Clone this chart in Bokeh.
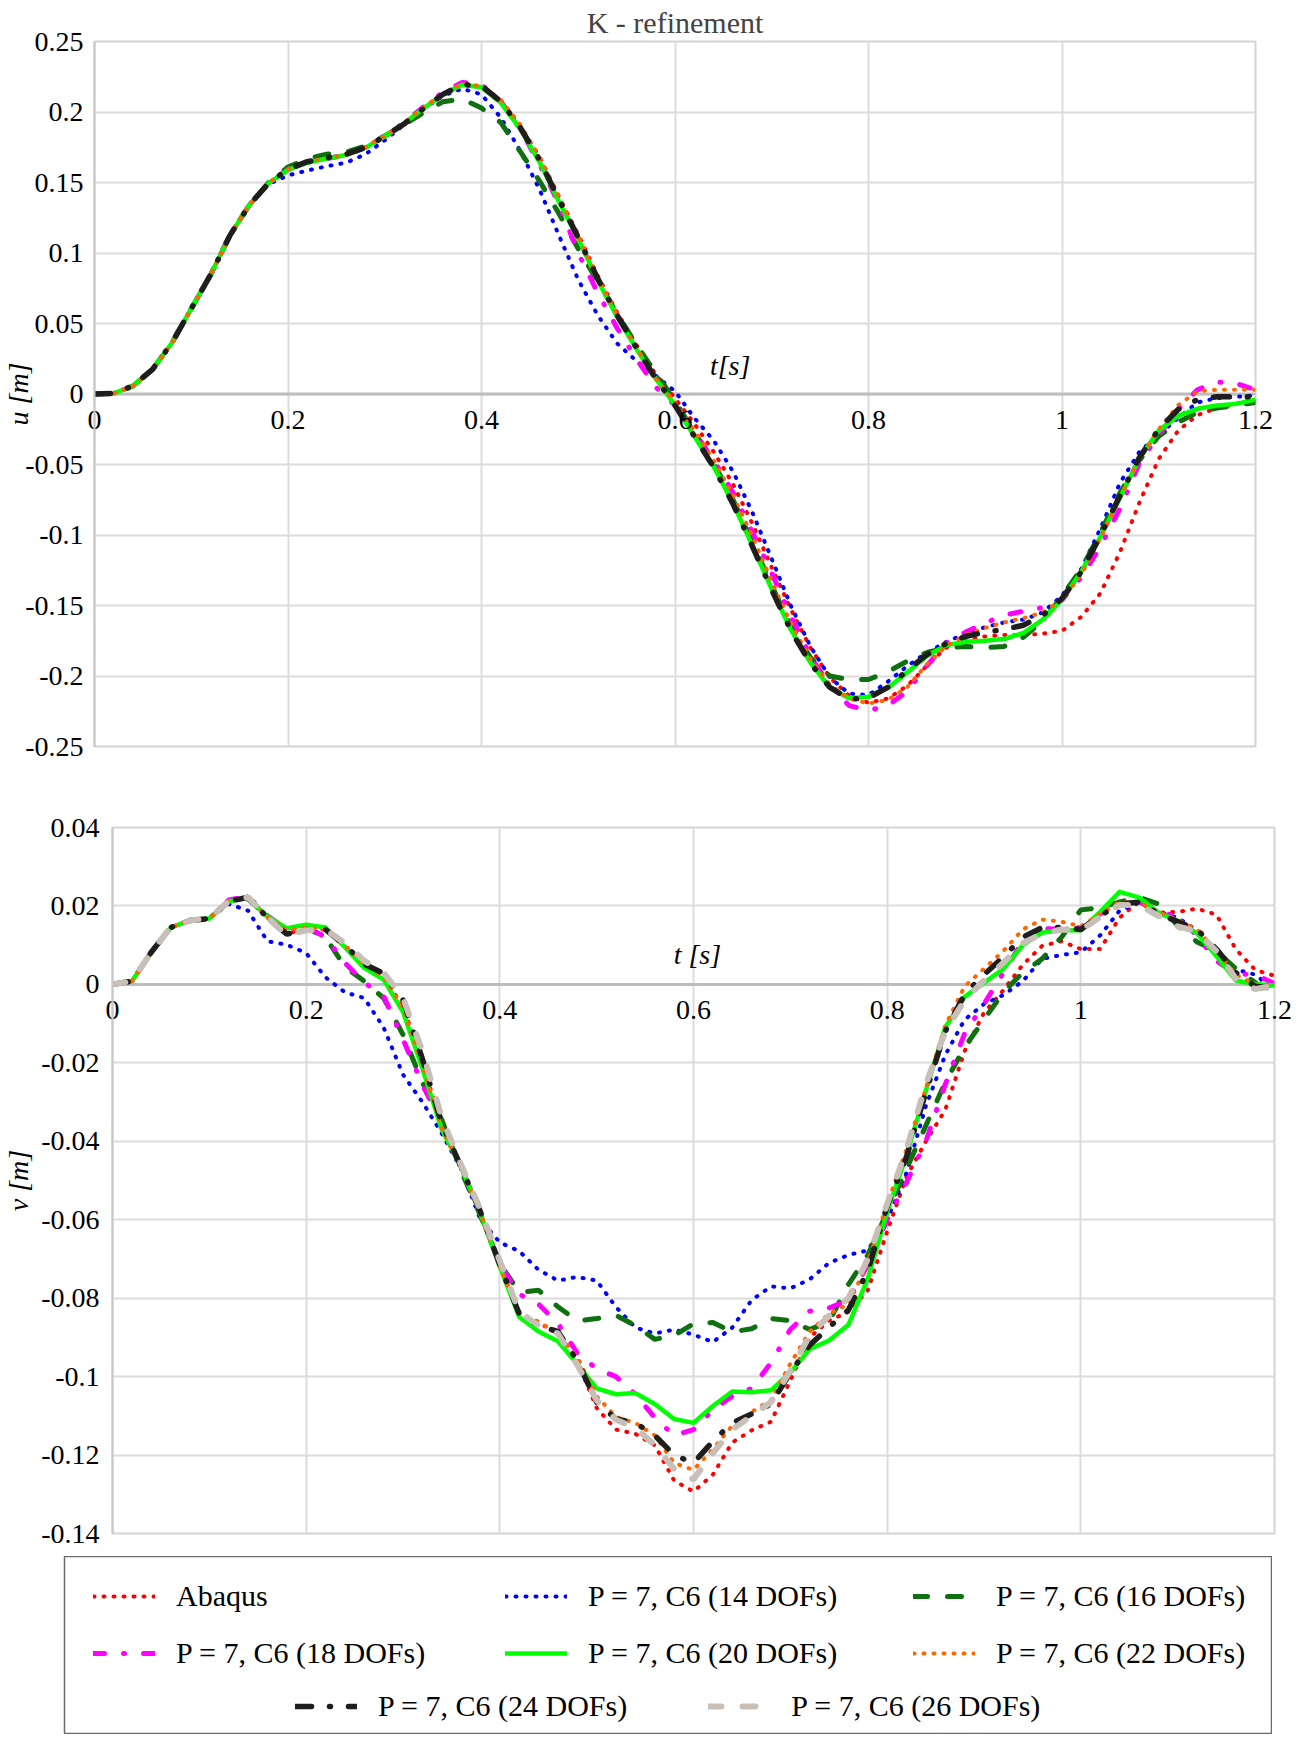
import math
import numpy as np
from bokeh.plotting import figure
from bokeh.models import (Range1d, FixedTicker, NumeralTickFormatter, Label,
                          Legend, LegendItem, Span)
from bokeh.embed import file_html
from bokeh.resources import INLINE

# ---------------- data ----------------
T = [round(0.02 * i, 2) for i in range(61)]          # time [s]

X_TICKS = [0, 0.2, 0.4, 0.6, 0.8, 1.0, 1.2]
U_TICKS = [-0.25, -0.2, -0.15, -0.1, -0.05, 0, 0.05, 0.1, 0.15, 0.2, 0.25]
V_TICKS = [-0.14, -0.12, -0.1, -0.08, -0.06, -0.04, -0.02, 0, 0.02, 0.04]

# horizontal displacement u [m]; first 9 samples (t = 0 .. 0.16) shared
U_START = [0, 0.0005, 0.0058, 0.0175, 0.0362, 0.0605, 0.0845, 0.1125, 0.1340]

U_ABAQUS = U_START + [
    0.1495, 0.1600, 0.1650, 0.1670, 0.1700, 0.1750, 0.1830, 0.1920, 0.2030, 0.2130,
    0.2190, 0.2180, 0.2080, 0.1900, 0.1680, 0.1400, 0.1130, 0.0840, 0.0580, 0.0350,
    0.0140, -0.0030, -0.0210, -0.0410, -0.0640, -0.0920, -0.1230, -0.1530, -0.1800, -0.2010,
    -0.2140, -0.2190, -0.2160, -0.2070, -0.1930, -0.1800, -0.1750, -0.1720, -0.1710, -0.1710,
    -0.1700, -0.1680, -0.1580, -0.1410, -0.1120, -0.0770, -0.0460, -0.0260, -0.0150, -0.0100,
    -0.0070, -0.0020]
U_P14 = U_START + [
    0.1490, 0.1550, 0.1585, 0.1615, 0.1640, 0.1700, 0.1800, 0.1910, 0.2020, 0.2115,
    0.2165, 0.2125, 0.1960, 0.1725, 0.1450, 0.1125, 0.0810, 0.0560, 0.0360, 0.0235,
    0.0130, 0.0020, -0.0170, -0.0330, -0.0550, -0.0840, -0.1170, -0.1506, -0.1790, -0.2010,
    -0.2125, -0.2135, -0.2040, -0.1930, -0.1836, -0.1760, -0.1700, -0.1655, -0.1620, -0.1600,
    -0.1550, -0.1430, -0.1240, -0.0950, -0.0630, -0.0410, -0.0290, -0.0170, -0.0060, -0.0030,
    -0.0020, -0.0010]
U_P16 = U_START + [
    0.1500, 0.1610, 0.1668, 0.1700, 0.1715, 0.1760, 0.1830, 0.1910, 0.1995, 0.2072,
    0.2092, 0.2028, 0.1925, 0.1720, 0.1510, 0.1280, 0.1030, 0.0800, 0.0570, 0.0350,
    0.0150, -0.0050, -0.0270, -0.0490, -0.0750, -0.1050, -0.1360, -0.1650, -0.1870, -0.2000,
    -0.2025, -0.2025, -0.1970, -0.1895, -0.1835, -0.1800, -0.1790, -0.1800, -0.1790, -0.1725,
    -0.1610, -0.1435, -0.1240, -0.0980, -0.0700, -0.0470, -0.0300, -0.0200, -0.0130, -0.0100,
    -0.0080, -0.0060]
U_P18 = U_START + [
    0.1495, 0.1590, 0.1640, 0.1670, 0.1695, 0.1745, 0.1830, 0.1925, 0.2035, 0.2140,
    0.2210, 0.2195, 0.2075, 0.1880, 0.1630, 0.1350, 0.1000, 0.0720, 0.0470, 0.0250,
    0.0050, -0.0080, -0.0270, -0.0470, -0.0700, -0.0980, -0.1270, -0.1580, -0.1860, -0.2070,
    -0.2210, -0.2245, -0.2210, -0.2110, -0.1930, -0.1770, -0.1690, -0.1625, -0.1570, -0.1540,
    -0.1515, -0.1460, -0.1300, -0.1080, -0.0810, -0.0490, -0.0290, -0.0110, 0.0030, 0.0085,
    0.0075, 0.0030]
U_P20 = U_START + [
    0.1495, 0.1590, 0.1640, 0.1670, 0.1695, 0.1745, 0.1828, 0.1918, 0.2026, 0.2124,
    0.2193, 0.2175, 0.2065, 0.1880, 0.1645, 0.1366, 0.1100, 0.0808, 0.0550, 0.0320,
    0.0110, -0.0080, -0.0300, -0.0515, -0.0775, -0.1075, -0.1385, -0.1675, -0.1905, -0.2084,
    -0.2158, -0.2148, -0.2085, -0.1975, -0.1860, -0.1783, -0.1757, -0.1750, -0.1738, -0.1695,
    -0.1600, -0.1459, -0.1260, -0.1010, -0.0735, -0.0455, -0.0260, -0.0155, -0.0105, -0.0082,
    -0.0070, -0.0040]
U_P22 = U_START + [
    0.1495, 0.1595, 0.1645, 0.1672, 0.1698, 0.1748, 0.1830, 0.1920, 0.2030, 0.2130,
    0.2200, 0.2185, 0.2085, 0.1910, 0.1680, 0.1400, 0.1120, 0.0825, 0.0565, 0.0330,
    0.0110, -0.0060, -0.0260, -0.0470, -0.0720, -0.1010, -0.1330, -0.1630, -0.1880, -0.2060,
    -0.2160, -0.2195, -0.2170, -0.2080, -0.1920, -0.1790, -0.1710, -0.1660, -0.1620, -0.1590,
    -0.1550, -0.1460, -0.1280, -0.1020, -0.0730, -0.0460, -0.0250, -0.0080, 0.0020, 0.0030,
    0.0030, 0.0030]
U_P24 = U_START + [
    0.1495, 0.1595, 0.1648, 0.1675, 0.1700, 0.1748, 0.1828, 0.1915, 0.2025, 0.2125,
    0.2195, 0.2185, 0.2075, 0.1890, 0.1660, 0.1380, 0.1110, 0.0820, 0.0560, 0.0330,
    0.0110, -0.0080, -0.0300, -0.0520, -0.0780, -0.1080, -0.1390, -0.1680, -0.1910, -0.2080,
    -0.2165, -0.2155, -0.2080, -0.1960, -0.1850, -0.1770, -0.1720, -0.1690, -0.1670, -0.1640,
    -0.1570, -0.1450, -0.1260, -0.1000, -0.0720, -0.0450, -0.0250, -0.0110, -0.0040, -0.0020,
    -0.0020, -0.0020]

# vertical displacement v [m]; first 6 samples (t = 0 .. 0.10) shared
V_START = [0, 0.0008, 0.0082, 0.0145, 0.0163, 0.0168]

V_ABAQUS = V_START + [
    0.0212, 0.0220, 0.0170, 0.0130, 0.0140, 0.0140, 0.0095, 0.0050, 0.0018, -0.0055,
    -0.0200, -0.0360, -0.0465, -0.0585, -0.0718, -0.0835, -0.0865, -0.0885, -0.0960, -0.1080,
    -0.1135, -0.1146, -0.1175, -0.1265, -0.1293, -0.1250, -0.1168, -0.1137, -0.1115, -0.1010,
    -0.0900, -0.0857, -0.0835, -0.0780, -0.0630, -0.0490, -0.0400, -0.0320, -0.0170, -0.0072,
    -0.0015, 0.0050, 0.0098, 0.0110, 0.0090, 0.0090, 0.0170, 0.0212, 0.0183, 0.0185,
    0.0193, 0.0178, 0.0090, 0.0037, 0.0022]
V_P14 = V_START + [
    0.0205, 0.0188, 0.0110, 0.0101, 0.0080, 0.0018, -0.0020, -0.0035, -0.0110, -0.0230,
    -0.0300, -0.0380, -0.0470, -0.0600, -0.0658, -0.0680, -0.0728, -0.0755, -0.0746, -0.0755,
    -0.0823, -0.0875, -0.0890, -0.0880, -0.0893, -0.0912, -0.0875, -0.0805, -0.0770, -0.0775,
    -0.0752, -0.0710, -0.0690, -0.0678, -0.0600, -0.0480, -0.0310, -0.0180, -0.0090, -0.0050,
    -0.0027, 0.0008, 0.0065, 0.0075, 0.0082, 0.0125, 0.0188, 0.0208, 0.0185, 0.0170,
    0.0138, 0.0080, 0.0038, 0.0025, -0.0015]
V_P16 = V_START + [
    0.0210, 0.0218, 0.0172, 0.0140, 0.0145, 0.0120, 0.0045, 0.0008, -0.0035, -0.0128,
    -0.0250, -0.0345, -0.0475, -0.0590, -0.0712, -0.0785, -0.0780, -0.0822, -0.0858, -0.0852,
    -0.0844, -0.0870, -0.0905, -0.0895, -0.0865, -0.0862, -0.0886, -0.0878, -0.0852, -0.0857,
    -0.0880, -0.0860, -0.0765, -0.0690, -0.0580, -0.0470, -0.0360, -0.0250, -0.0160, -0.0090,
    -0.0020, 0.0030, 0.0065, 0.0120, 0.0190, 0.0195, 0.0210, 0.0222, 0.0205, 0.0150,
    0.0108, 0.0085, 0.0040, 0.0005, -0.0040]
V_P18 = V_START + [
    0.0215, 0.0225, 0.0175, 0.0140, 0.0148, 0.0120, 0.0055, 0.0005, -0.0030, -0.0140,
    -0.0255, -0.0355, -0.0465, -0.0585, -0.0715, -0.0790, -0.0815, -0.0865, -0.0940, -0.0980,
    -0.1000, -0.1045, -0.1105, -0.1150, -0.1135, -0.1085, -0.1050, -0.1030, -0.0965, -0.0880,
    -0.0833, -0.0825, -0.0805, -0.0715, -0.0600, -0.0505, -0.0400, -0.0255, -0.0125, -0.0050,
    0.0030, 0.0110, 0.0143, 0.0140, 0.0145, 0.0180, 0.0200, 0.0210, 0.0190, 0.0170,
    0.0125, 0.0060, 0.0027, 0.0025, 0.0002]
V_P20 = V_START + [
    0.0212, 0.0220, 0.0173, 0.0143, 0.0152, 0.0145, 0.0095, 0.0042, 0.0012, -0.0070,
    -0.0214, -0.0370, -0.0465, -0.0585, -0.0720, -0.0848, -0.0885, -0.0910, -0.0968, -0.1030,
    -0.1045, -0.1042, -0.1070, -0.1108, -0.1118, -0.1075, -0.1038, -0.1040, -0.1035, -0.0990,
    -0.0930, -0.0908, -0.0868, -0.0750, -0.0580, -0.0435, -0.0270, -0.0110, -0.0032, 0.0004,
    0.0040, 0.0100, 0.0132, 0.0138, 0.0138, 0.0185, 0.0236, 0.0222, 0.0183, 0.0162,
    0.0130, 0.0072, 0.0010, 0.0001, -0.0003]
V_P22 = V_START + [
    0.0212, 0.0222, 0.0172, 0.0138, 0.0145, 0.0140, 0.0100, 0.0050, 0.0020, -0.0060,
    -0.0205, -0.0365, -0.0470, -0.0585, -0.0720, -0.0840, -0.0860, -0.0890, -0.0950, -0.1050,
    -0.1103, -0.1118, -0.1150, -0.1220, -0.1238, -0.1185, -0.1125, -0.1090, -0.1060, -0.0967,
    -0.0885, -0.0840, -0.0815, -0.0710, -0.0560, -0.0420, -0.0265, -0.0105, -0.0005, 0.0040,
    0.0085, 0.0140, 0.0165, 0.0160, 0.0148, 0.0180, 0.0210, 0.0210, 0.0185, 0.0165,
    0.0140, 0.0085, 0.0025, 0.0000, -0.0003]
V_P24 = V_START + [
    0.0212, 0.0222, 0.0170, 0.0128, 0.0140, 0.0140, 0.0100, 0.0052, 0.0028, -0.0040,
    -0.0190, -0.0355, -0.0465, -0.0580, -0.0715, -0.0840, -0.0870, -0.0885, -0.0960, -0.1065,
    -0.1108, -0.1118, -0.1150, -0.1200, -0.1220, -0.1165, -0.1118, -0.1095, -0.1070, -0.0990,
    -0.0920, -0.0874, -0.0830, -0.0730, -0.0565, -0.0440, -0.0275, -0.0120, -0.0025, 0.0025,
    0.0070, 0.0120, 0.0145, 0.0145, 0.0140, 0.0175, 0.0205, 0.0210, 0.0180, 0.0160,
    0.0140, 0.0090, 0.0030, -0.0005, -0.0010]
V_P26 = V_START + [
    0.0212, 0.0222, 0.0170, 0.0126, 0.0138, 0.0140, 0.0105, 0.0060, 0.0030, -0.0035,
    -0.0170, -0.0340, -0.0460, -0.0575, -0.0705, -0.0835, -0.0870, -0.0890, -0.0970, -0.1060,
    -0.1110, -0.1130, -0.1175, -0.1235, -0.1262, -0.1195, -0.1135, -0.1100, -0.1065, -0.0985,
    -0.0895, -0.0845, -0.0800, -0.0700, -0.0560, -0.0420, -0.0255, -0.0120, -0.0040, 0.0010,
    0.0055, 0.0105, 0.0130, 0.0140, 0.0138, 0.0172, 0.0203, 0.0202, 0.0175, 0.0148,
    0.0135, 0.0085, 0.0015, -0.0012, -0.0003]

LABELS = ["Abaqus", "P = 7, C6 (14 DOFs)", "P = 7, C6 (16 DOFs)", "P = 7, C6 (18 DOFs)",
          "P = 7, C6 (20 DOFs)", "P = 7, C6 (22 DOFs)", "P = 7, C6 (24 DOFs)",
          "P = 7, C6 (26 DOFs)"]
U_SERIES = [U_ABAQUS, U_P14, U_P16, U_P18, U_P20, U_P22, U_P24]
V_SERIES = [V_ABAQUS, V_P14, V_P16, V_P18, V_P20, V_P22, V_P24, V_P26]

for s in U_SERIES + V_SERIES:
    assert len(s) == len(T), len(s)

# ---------------- styles ----------------
STYLES = [
    dict(line_color="#ff0000", line_width=4, line_dash="1 9", line_cap="round"),
    dict(line_color="#0000ff", line_width=4, line_dash="1 9", line_cap="round"),
    dict(line_color="#0e700e", line_width=5, line_dash="14 20", line_cap="round"),
    dict(line_color="#ff00ff", line_width=5, line_dash="11 19 1 19", line_cap="round"),
    dict(line_color="#00ff00", line_width=4.5, line_cap="round", line_join="round"),
    dict(line_color="#ff6600", line_width=4, line_dash="1 9", line_cap="round"),
    dict(line_color="#1e1e1e", line_width=5.5, line_dash="16 18 1 18", line_cap="round"),
    dict(line_color="#c8bfb8", line_width=6, line_dash="13 21", line_cap="round"),
]

FONT = "Liberation Serif"
GRID_C = "#dcdcdc"


def style_plot(p, yticks, ylab_standoff, xlab_standoff, ylabel, ylabel_standoff):
    p.background_fill_color = "white"
    p.border_fill_color = "white"
    p.outline_line_color = "#d4d4d4"
    p.outline_line_width = 2
    for ax in p.xaxis:
        ax.ticker = FixedTicker(ticks=X_TICKS)
        ax.formatter = NumeralTickFormatter(format="0.[0]")
        ax.axis_line_color = None
        ax.major_tick_line_color = None
        ax.minor_tick_line_color = None
        ax.major_tick_out = 0
        ax.major_tick_in = 0
        ax.major_label_standoff = xlab_standoff
        ax.major_label_text_font = FONT
        ax.major_label_text_font_size = "28px"
        ax.major_label_text_color = "black"
    for ax in p.yaxis:
        ax.ticker = FixedTicker(ticks=yticks)
        ax.formatter = NumeralTickFormatter(format="0.[00]")
        ax.axis_line_color = "#c8c8c8"
        ax.axis_line_width = 2
        ax.major_tick_line_color = None
        ax.minor_tick_line_color = None
        ax.major_tick_out = 0
        ax.major_tick_in = 0
        ax.major_label_standoff = ylab_standoff
        ax.major_label_text_font = FONT
        ax.major_label_text_font_size = "28px"
        ax.major_label_text_color = "black"
        ax.axis_label = ylabel
        ax.axis_label_standoff = ylabel_standoff
        ax.axis_label_text_font = FONT
        ax.axis_label_text_font_style = "italic"
        ax.axis_label_text_font_size = "28px"
        ax.axis_label_text_color = "black"
    p.xgrid.ticker = FixedTicker(ticks=X_TICKS)
    p.ygrid.ticker = FixedTicker(ticks=yticks)
    for g in (p.xgrid, p.ygrid):
        g.grid_line_color = GRID_C
        g.grid_line_width = 2
    p.add_layout(Span(location=0, dimension="width", line_color="#bdbdbd",
                      line_width=3, level="underlay"))


def axis_text(p, x, y, text):
    p.add_layout(Label(x=x, y=y, text=text, text_font=FONT,
                       text_font_style="italic", text_font_size="28px",
                       text_align="center", text_baseline="middle",
                       text_color="black"))


# ---------------- top plot: u ----------------
p1 = figure(frame_width=1161, frame_height=705,
            x_range=Range1d(0, 1.2), y_range=Range1d(-0.25, 0.25),
            min_border_left=88, min_border_right=37, min_border_top=34,
            min_border_bottom=50, title="K - refinement",
            output_backend="svg", toolbar_location=None)
p1.title.align = "center"
p1.title.text_font = FONT
p1.title.text_font_size = "30px"
p1.title.text_font_style = "normal"
p1.title.standoff = 6
style_plot(p1, U_TICKS, 11, -336, "u [m]", -12)
for vals, st in zip(U_SERIES, STYLES):
    p1.line(T, vals, **st)
axis_text(p1, 0.657, 0.0205, "t[s]")

# ---------------- bottom plot: v ----------------
p2 = figure(frame_width=1162, frame_height=706,
            x_range=Range1d(0, 1.2), y_range=Range1d(-0.14, 0.04),
            min_border_left=106, min_border_right=20, min_border_top=31,
            min_border_bottom=23,
            output_backend="svg", toolbar_location=None)
style_plot(p2, V_TICKS, 13, -533, "v [m]", 4)
for vals, st in zip(V_SERIES, STYLES):
    p2.line(T, vals, **st)
axis_text(p2, 0.604, 0.0076, "t [s]")

# ---------------- legend box ----------------
p3 = figure(frame_width=1208, frame_height=178,
            x_range=Range1d(0, 1), y_range=Range1d(0, 1),
            x_axis_type=None, y_axis_type=None,
            min_border_left=64, min_border_right=0, min_border_top=0,
            min_border_bottom=0, output_backend="svg", toolbar_location=None)
p3.outline_line_color = "#6b6b6b"
p3.outline_line_width = 1.5
rend = {}
for lab, st in zip(LABELS, STYLES):
    # legend-only renderer (no visible data)
    rend[lab] = p3.line(x=np.array([np.nan]), y=np.array([np.nan]), **st)


def add_legend(labels, loc, orientation, spacing):
    lg = Legend(items=[LegendItem(label=l, renderers=[rend[l]]) for l in labels],
                location=loc, orientation=orientation, spacing=spacing,
                glyph_width=62, glyph_height=34, label_height=34,
                label_standoff=21, padding=0, margin=0,
                border_line_color=None, background_fill_alpha=0,
                label_text_font=FONT, label_text_font_size="30px",
                label_text_baseline="middle", label_text_color="black")
    p3.add_layout(lg)


add_legend([LABELS[0], LABELS[3]], (29, 64), "vertical", 23)
add_legend([LABELS[1], LABELS[4]], (441, 64), "vertical", 23)
add_legend([LABELS[2], LABELS[5]], (849, 64), "vertical", 23)
add_legend([LABELS[6], LABELS[7]], (231, 11), "horizontal", 81)

open("out.html", "w").write(file_html([p1, p2, p3], INLINE))
